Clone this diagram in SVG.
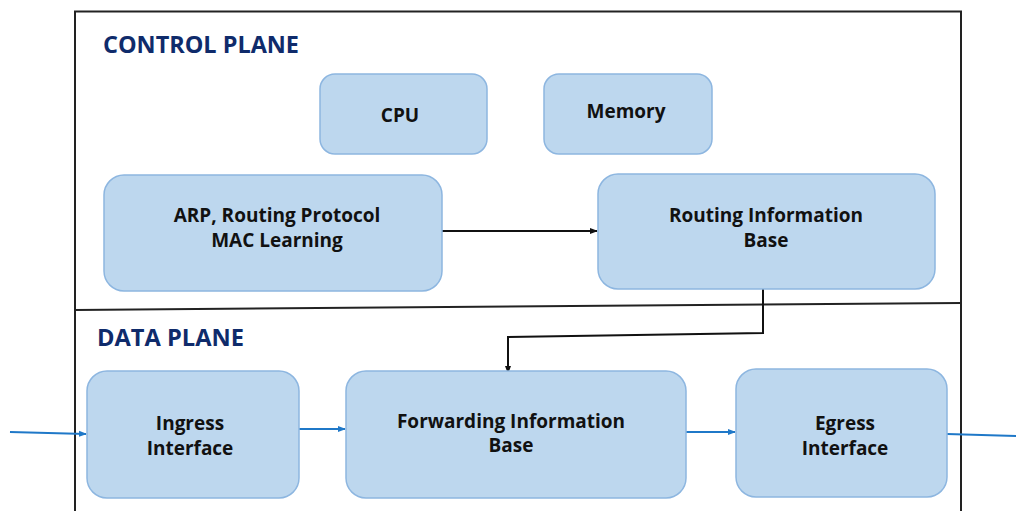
<svg xmlns="http://www.w3.org/2000/svg" width="1016" height="511" viewBox="0 0 1016 511">
<style>
.box{fill:#BDD7EE;stroke:#8DB6E0;stroke-width:1.5}
.t{font-family:"Open Sans","Liberation Sans",sans-serif;font-weight:bold;font-size:19px;fill:#111;text-anchor:middle}
.title{font-family:"Open Sans","Liberation Sans",sans-serif;font-weight:bold;font-size:23px;fill:#0F2B6B}
.k{fill:none;stroke:#111;stroke-width:2}
.b{fill:none;stroke:#1F78C8;stroke-width:2}
</style>
<defs>
<marker id="ak" markerWidth="8" markerHeight="8" refX="7" refY="4" orient="auto" markerUnits="userSpaceOnUse"><path d="M0,1 L8,4 L0,7 z" fill="#111"/></marker>
<marker id="ab" markerWidth="8" markerHeight="8" refX="7" refY="4" orient="auto" markerUnits="userSpaceOnUse"><path d="M0,1 L8,4 L0,7 z" fill="#1F78C8"/></marker>
</defs>
<rect width="1016" height="511" fill="#fff"/>
<g id="frame">
<path d="M75,520 L75,11.5 L961,11.5 L961,520" fill="none" stroke="#222" stroke-width="2"/>
<path d="M75,310 L961,303" fill="none" stroke="#222" stroke-width="2"/>
<text class="title" x="103" y="53" textLength="196" lengthAdjust="spacingAndGlyphs">CONTROL PLANE</text>
<text class="title" x="97" y="346" textLength="147" lengthAdjust="spacingAndGlyphs">DATA PLANE</text>
</g>
<g id="connectors">
<path class="k" d="M442,231 L597,231" marker-end="url(#ak)"/>
<path class="k" d="M763,289 L763,333 L508,337 L508,373" marker-end="url(#ak)"/>
<path class="b" d="M10,432 L86,434" marker-end="url(#ab)"/>
<path class="b" d="M299,429 L345,429" marker-end="url(#ab)"/>
<path class="b" d="M686,432 L735,432" marker-end="url(#ab)"/>
<path class="b" d="M947,434 L1016,436"/>
</g>
<g id="cpu"><rect class="box" x="320" y="74" width="167" height="80" rx="15"/><text class="t" x="400" y="122">CPU</text></g>
<g id="memory"><rect class="box" x="544" y="74" width="168" height="80" rx="15"/><text class="t" x="626" y="118">Memory</text></g>
<g id="arp"><rect class="box" x="104" y="175" width="338" height="116" rx="20"/><text class="t" x="277" y="222">ARP, Routing Protocol</text><text class="t" x="277" y="247">MAC Learning</text></g>
<g id="rib"><rect class="box" x="598" y="174" width="337" height="115" rx="20"/><text class="t" x="766" y="222">Routing Information</text><text class="t" x="766" y="247">Base</text></g>
<g id="ingress"><rect class="box" x="87" y="371" width="212" height="127" rx="20"/><text class="t" x="190" y="430">Ingress</text><text class="t" x="190" y="455">Interface</text></g>
<g id="fib"><rect class="box" x="346" y="371" width="340" height="127" rx="20"/><text class="t" x="511" y="428">Forwarding Information</text><text class="t" x="511" y="452">Base</text></g>
<g id="egress"><rect class="box" x="736" y="369" width="211" height="128" rx="20"/><text class="t" x="845" y="430">Egress</text><text class="t" x="845" y="455">Interface</text></g>
</svg>
